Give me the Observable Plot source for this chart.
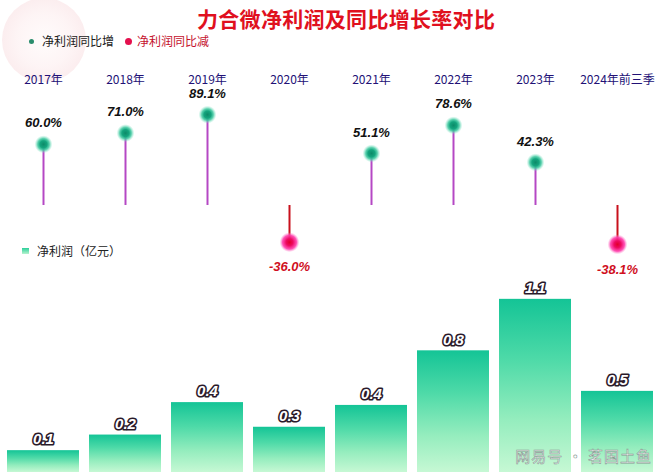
<!DOCTYPE html>
<html>
<head>
<meta charset="utf-8">
<script src="https://cdn.jsdelivr.net/npm/d3@7"></script>
<script src="https://cdn.jsdelivr.net/npm/@observablehq/plot@0.6"></script>
<style>
  html, body { margin: 0; padding: 0; background: #fff; }
  #wrap { position: relative; width: 660px; height: 474px; overflow: hidden; background: #fff;
          font-family: "Noto Sans CJK SC", "Noto Sans", sans-serif; }
  .abs { position: absolute; white-space: nowrap; }
  #logo { left: 2px; top: -2px; width: 84px; height: 84px; border-radius: 50%;
          background: radial-gradient(circle at 50% 50%, #fffafa 0%, #fdf0f1 45%, #fae6e8 70%, #fcf2f3 100%); opacity: 0.7; }
  #title { left: 197px; top: 3px; font-size: 21px; font-weight: 700; color: #e0101e; letter-spacing: 0.3px; }
  .lg { font-size: 12px; line-height: 14px; }
  .dot { position: absolute; border-radius: 50%; }
  #wm { right: 8px; top: 445px; font-size: 15px; color: #fff; -webkit-text-stroke: 0.6px #8a9a94; letter-spacing: 1px; }
  #top, #bot { position: absolute; left: 0; }
  #top { top: 60px; }
  #bot { top: 280px; }
</style>
</head>
<body>
<div id="wrap">
  <div id="logo" class="abs"></div>
  <div id="top"></div>
  <div id="bot"></div>
  <div id="title" class="abs">力合微净利润及同比增长率对比</div>
  <div class="dot" style="left:29px;top:39px;width:5px;height:5px;background:#2a8c6c;"></div>
  <div class="abs lg" style="left:42px;top:34px;color:#1a1a1a;">净利润同比增</div>
  <div class="dot" style="left:125px;top:38px;width:7px;height:7px;background:#e4104e;"></div>
  <div class="abs lg" style="left:137px;top:34px;color:#c4102c;">净利润同比减</div>
  <div class="abs" style="left:22px;top:248px;width:7px;height:6px;background:linear-gradient(#2ccf9a,#b8f3cf);"></div>
  <div class="abs lg" style="left:37px;top:244px;color:#222;">净利润（亿元）</div>
  <div id="wm" class="abs">网易号 · 茗国土鱼</div>
</div>
<script>
// ---- data ----
const years = ["2017年", "2018年", "2019年", "2020年", "2021年", "2022年", "2023年", "2024年前三季"];
const growthPct = [60.0, 71.0, 89.1, -36.0, 51.1, 78.6, 42.3, -38.1];
const netProfit = [0.14, 0.24, 0.448, 0.29, 0.43, 0.78, 1.11, 0.52]; // 亿元

const growth = years.map((year, i) => ({year, g: growthPct[i]}));
const profit = years.map((year, i) => ({year, v: netProfit[i]}));

const xScale = {domain: years, range: [0, 660], paddingInner: 0.127, paddingOuter: 0.073, axis: null, label: null};
const fmtPct = d => d.toFixed(1) + "%";
const fmtV = d3.format(".1f");

const topPlot = Plot.plot({
  width: 660, height: 220,
  marginTop: 24, marginBottom: 0, marginLeft: 0, marginRight: 0,
  style: {background: "transparent", overflow: "visible", fontFamily: "Noto Sans CJK SC, Noto Sans, sans-serif"},
  x: xScale,
  y: {domain: [0, 100], range: [145, 43], axis: null},
  marks: [
    Plot.axisX({anchor: "top", tickSize: 0, tickPadding: 1, fontSize: 12, fill: "#221176", label: null}),
    Plot.ruleX(growth.filter(d => d.g >= 0), {x: "year", y1: 0, y2: "g", stroke: "#b548c4", strokeWidth: 2}),
    Plot.ruleX(growth.filter(d => d.g < 0), {x: "year", y1: 0, y2: "g", stroke: "#c8101c", strokeWidth: 2}),
    Plot.dot(growth.filter(d => d.g >= 0), {x: "year", y: "g", r: 9, fill: "url(#glowG)"}),
    Plot.dot(growth.filter(d => d.g < 0), {x: "year", y: "g", r: 10, fill: "url(#glowR)"}),
    Plot.text(growth.filter(d => d.g >= 0), {x: "year", y: "g", text: d => fmtPct(d.g), dy: -21,
      fill: "#111", fontSize: 13, fontWeight: "bold", fontStyle: "italic",
      fontFamily: "Liberation Sans, Arial, sans-serif"}),
    Plot.text(growth.filter(d => d.g < 0), {x: "year", y: "g", text: d => fmtPct(d.g), dy: 25,
      fill: "#d0101e", fontSize: 13, fontWeight: "bold", fontStyle: "italic",
      fontFamily: "Liberation Sans, Arial, sans-serif"})
  ]
});

const botPlot = Plot.plot({
  width: 660, height: 194,
  marginTop: 0, marginBottom: 2, marginLeft: 0, marginRight: 0,
  style: {background: "transparent", overflow: "visible"},
  x: xScale,
  y: {domain: [0, 1], range: [192, 36], axis: null},
  marks: [
    Plot.barY(profit, {x: "year", y: "v", fill: "url(#barG)"}),
    Plot.text(profit, {x: "year", y: "v", text: d => fmtV(d.v), dy: -11,
      fill: "#fff", stroke: "#2a1a2a", strokeWidth: 3.2, paintOrder: "stroke",
      fontSize: 15, fontWeight: "bold", fontStyle: "italic",
      fontFamily: "Liberation Sans, Arial, sans-serif"})
  ]
});

const defs = `
<defs>
  <radialGradient id="glowG">
    <stop offset="0%" stop-color="#0c8a68"/>
    <stop offset="40%" stop-color="#14a57e"/>
    <stop offset="65%" stop-color="#3fc9a0" stop-opacity="0.85"/>
    <stop offset="100%" stop-color="#8fe8cc" stop-opacity="0"/>
  </radialGradient>
  <radialGradient id="glowR">
    <stop offset="0%" stop-color="#e0002a"/>
    <stop offset="35%" stop-color="#ee0a62"/>
    <stop offset="70%" stop-color="#ff3fae" stop-opacity="0.9"/>
    <stop offset="100%" stop-color="#ff8fd0" stop-opacity="0"/>
  </radialGradient>
  <linearGradient id="barG" x1="0" y1="0" x2="0" y2="1">
    <stop offset="0%" stop-color="#14c496"/>
    <stop offset="35%" stop-color="#4edaa8"/>
    <stop offset="70%" stop-color="#95edbe"/>
    <stop offset="100%" stop-color="#c6f8d4"/>
  </linearGradient>
</defs>`;
const ns = "http://www.w3.org/2000/svg";
const tmp = document.createElementNS(ns, "svg");
tmp.innerHTML = defs;
topPlot.insertBefore(tmp.firstElementChild, topPlot.firstChild);

document.getElementById("top").appendChild(topPlot);
document.getElementById("bot").appendChild(botPlot);
</script>
</body>
</html>
